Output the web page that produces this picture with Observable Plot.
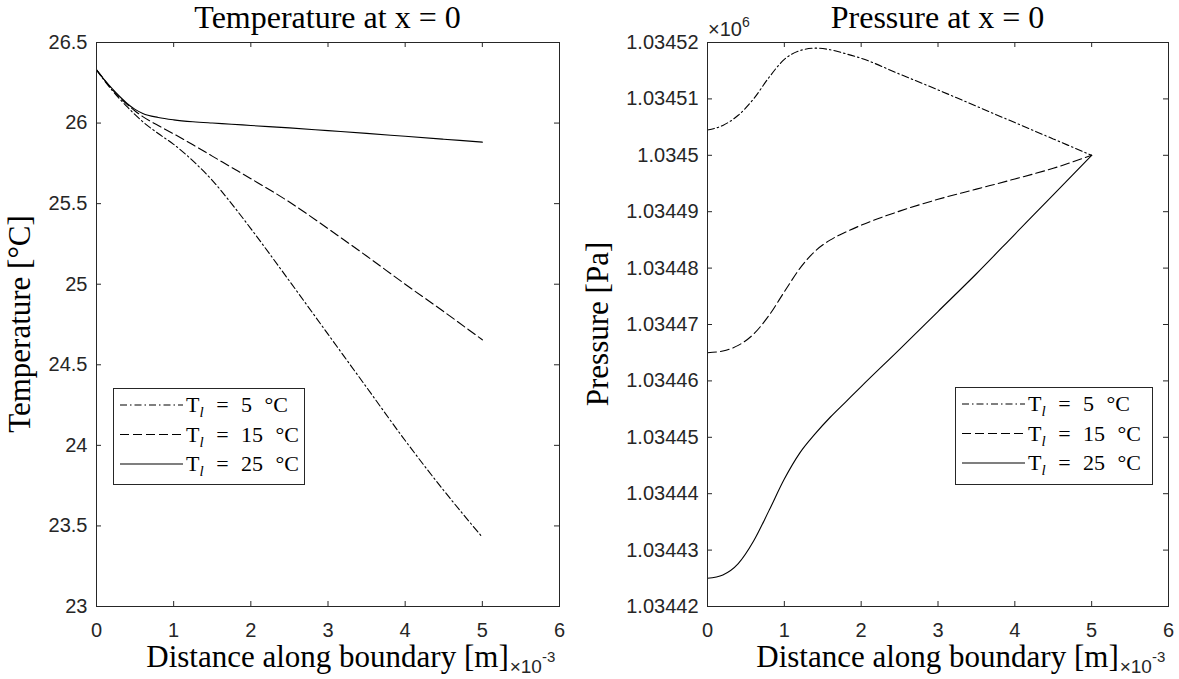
<!DOCTYPE html>
<html><head><meta charset="utf-8">
<script src="https://cdn.jsdelivr.net/npm/d3@7"></script>
<script src="https://cdn.jsdelivr.net/npm/@observablehq/plot@0.6"></script>
<style>
body{margin:0;background:#fff}
#root{position:relative;width:1179px;height:679px;overflow:hidden;background:#fff}
#root>svg{position:absolute;top:0}
</style></head><body><div id="root"></div>
<script>
(function(){
// ---------- data ----------
const xTicks = [0, 1, 2, 3, 4, 5, 6];                 // ×10^-3 m
const tempTicks = [23, 23.5, 24, 24.5, 25, 25.5, 26, 26.5];
const pressureTickLabels = [1.03442, 1.03443, 1.03444, 1.03445, 1.03446, 1.03447, 1.03448, 1.03449, 1.0345, 1.03451, 1.03452]; // ×10^6 Pa
const seriesNames = ["5", "15", "25"];              // T_l in °C

const tempX = [0, 0.1, 0.2, 0.3, 0.4, 0.5, 0.6, 0.8, 1.0, 1.25, 1.5, 1.75, 2.0, 2.5, 3.0, 3.5, 4.0, 4.5, 5.0];
const temp5  = [26.33, 26.265, 26.205, 26.15, 26.1, 26.052, 26.008, 25.935, 25.868, 25.765, 25.645, 25.5, 25.345, 25.02, 24.69, 24.36, 24.03, 23.72, 23.43];
const temp15 = [26.33, 26.27, 26.21, 26.16, 26.115, 26.075, 26.04, 25.985, 25.933, 25.865, 25.795, 25.725, 25.655, 25.51, 25.345, 25.175, 25.0, 24.83, 24.655];
const temp25 = [26.33, 26.27, 26.215, 26.165, 26.12, 26.085, 26.06, 26.035, 26.02, 26.008, 26.0, 25.993, 25.985, 25.97, 25.953, 25.936, 25.918, 25.9, 25.882];

const presX = [0, 0.2, 0.4, 0.6, 0.8, 1.0, 1.2, 1.4, 1.6, 1.8, 2.0, 2.5, 3.0, 3.5, 4.0, 4.5, 5.0];
const pres5  = [1034504.5, 1034505.3, 1034507.1, 1034510.0, 1034513.8, 1034517.0, 1034518.55, 1034519.0, 1034518.7, 1034518.0, 1034517.2, 1034514.4, 1034511.6, 1034508.7, 1034505.8, 1034502.9, 1034500.0];
const pres15 = [1034465.0, 1034465.3, 1034466.3, 1034468.3, 1034471.6, 1034475.8, 1034479.9, 1034483.0, 1034485.0, 1034486.4, 1034487.6, 1034490.1, 1034492.2, 1034494.0, 1034495.8, 1034497.7, 1034500.0];
const pres25 = [1034425.0, 1034425.6, 1034427.6, 1034431.6, 1034437.0, 1034442.6, 1034447.2, 1034450.6, 1034453.6, 1034456.3, 1034459.0, 1034465.6, 1034472.3, 1034479.0, 1034486.0, 1034493.0, 1034500.0];

// ---------- styles ----------
const dashes = ["7,3,1.5,3", "9,4", null];
const INK = "#262626";
const H = 679, MT = 42, MB = 73, TICK = 5;
const SERIF = "'Liberation Serif','Times New Roman',serif";
const SANS = "'Liberation Sans',Arial,sans-serif";

function rows(xs, ys) { return xs.map((x, i) => ({x, v: ys[i]})); }

function panel({width, ml, mr, yDomain, yTicks, yFormat, series, xs}) {
  const iw = width - ml - mr, ih = H - MT - MB;
  const marks = [
    Plot.axisX({ticks: xTicks, tickSize: 0, tickPadding: 16, label: null, tickFormat: d => String(d)}),
    Plot.axisY({ticks: yTicks, tickSize: 0, tickPadding: 9, label: null, tickFormat: yFormat}),
    Plot.tickX(xTicks, {x: d => d, insetBottom: ih - TICK, stroke: INK}),
    Plot.tickX(xTicks, {x: d => d, insetTop: ih - TICK, stroke: INK}),
    Plot.tickY(yTicks, {y: d => d, insetRight: iw - TICK, stroke: INK}),
    Plot.tickY(yTicks, {y: d => d, insetLeft: iw - TICK, stroke: INK}),
  ];
  series.forEach((ys, i) => {
    const o = {x: "x", y: "v", stroke: "#000", strokeWidth: 1.1, curve: "monotone-x"};
    if (dashes[i]) o.strokeDasharray = dashes[i];
    marks.push(Plot.line(rows(xs, ys), o));
  });
  marks.push(Plot.frame({stroke: INK, strokeWidth: 1}));
  return Plot.plot({
    width, height: H, marginLeft: ml, marginRight: mr, marginTop: MT, marginBottom: MB,
    x: {domain: [0, 6]},
    y: {domain: yDomain},
    style: {fontFamily: SANS, fontSize: "20px", color: INK, background: "transparent", overflow: "visible"},
    marks
  });
}

const root = document.getElementById("root");
const p1 = panel({width: 590, ml: 96, mr: 31, yDomain: [23, 26.5], yTicks: tempTicks, yFormat: d => String(d),
  series: [temp5, temp15, temp25], xs: tempX});
p1.style.left = "0px";
root.appendChild(p1);

const pTicks = pressureTickLabels.map(t => Math.round(t * 1e6));
const p2 = panel({width: 589, ml: 117, mr: 11, yDomain: [pTicks[0], pTicks[pTicks.length - 1]], yTicks: pTicks,
  yFormat: d => String(+(d / 1e6).toFixed(5)), series: [pres5, pres15, pres25], xs: presX});
p2.style.left = "590px";
root.appendChild(p2);

// ---------- overlay: titles, labels, legends ----------
const svg = d3.select(root).append("svg").attr("width", 1179).attr("height", 679)
  .style("left", "0px").style("pointer-events", "none");

const panels = [
  {left: 96, right: 559, title: "Temperature at x = 0", ylabel: "Temperature [°C]", ylabX: 30, legend: {x: 113, y: 388, w: 191, h: 96}},
  {left: 707, right: 1168, title: "Pressure at x = 0", ylabel: "Pressure [Pa]", ylabX: 608, legend: {x: 955, y: 387, w: 197, h: 97}}
];
const plotTop = MT, plotBottom = H - MB, midY = (plotTop + plotBottom) / 2;

panels.forEach((p, k) => {
  const cx = (p.left + p.right) / 2;
  svg.append("text").attr("x", cx).attr("y", 28).attr("text-anchor", "middle")
    .style("font-family", SERIF).style("font-size", "32px").attr("fill", "#000").text(p.title);
  const xl = svg.append("text").attr("x", cx).attr("y", 667).attr("text-anchor", "middle")
    .style("font-family", SERIF).style("font-size", "31px").attr("fill", "#000").text("Distance along boundary [m]");
  const tl = xl.node().getComputedTextLength();
  const ex = svg.append("text").attr("x", cx + tl / 2 + 1).attr("y", 673)
    .style("font-family", SANS).attr("fill", INK);
  ex.append("tspan").style("font-size", "19px").text("×10");
  ex.append("tspan").style("font-size", "15px").attr("dy", -11).text("-3");
  svg.append("text").attr("transform", `translate(${p.ylabX},${midY}) rotate(-90)`).attr("text-anchor", "middle")
    .style("font-family", SERIF).style("font-size", "31px").attr("fill", "#000").text(p.ylabel);

  // legend
  const L = p.legend;
  svg.append("rect").attr("x", L.x + 0.5).attr("y", L.y + 0.5).attr("width", L.w).attr("height", L.h)
    .attr("fill", "#fff").attr("stroke", INK).attr("stroke-width", 1);
  seriesNames.forEach((name, i) => {
    const cy = L.y + 17 + i * 29.5;
    const ln = svg.append("line").attr("x1", L.x + 7).attr("x2", L.x + 70).attr("y1", cy).attr("y2", cy)
      .attr("stroke", "#000").attr("stroke-width", 1.1);
    if (dashes[i]) ln.attr("stroke-dasharray", dashes[i]);
    const t = svg.append("text").attr("x", L.x + 73).attr("y", cy + 7)
      .style("font-family", SERIF).style("font-size", "22px").attr("fill", "#000")
      .style("white-space", "pre");
    t.append("tspan").text("T");
    t.append("tspan").attr("dy", 5).style("font-size", "15px").style("font-style", "italic").text("l");
    t.append("tspan").attr("dy", -5).style("word-spacing", "7px").text(" = " + name + " °C");
  });
});

// ×10^6 exponent for pressure axis
const e6 = svg.append("text").attr("x", 708).attr("y", 36).style("font-family", SANS).attr("fill", INK);
e6.append("tspan").style("font-size", "20px").text("×10");
e6.append("tspan").style("font-size", "14px").attr("dy", -9).text("6");
})();
</script></body></html>
